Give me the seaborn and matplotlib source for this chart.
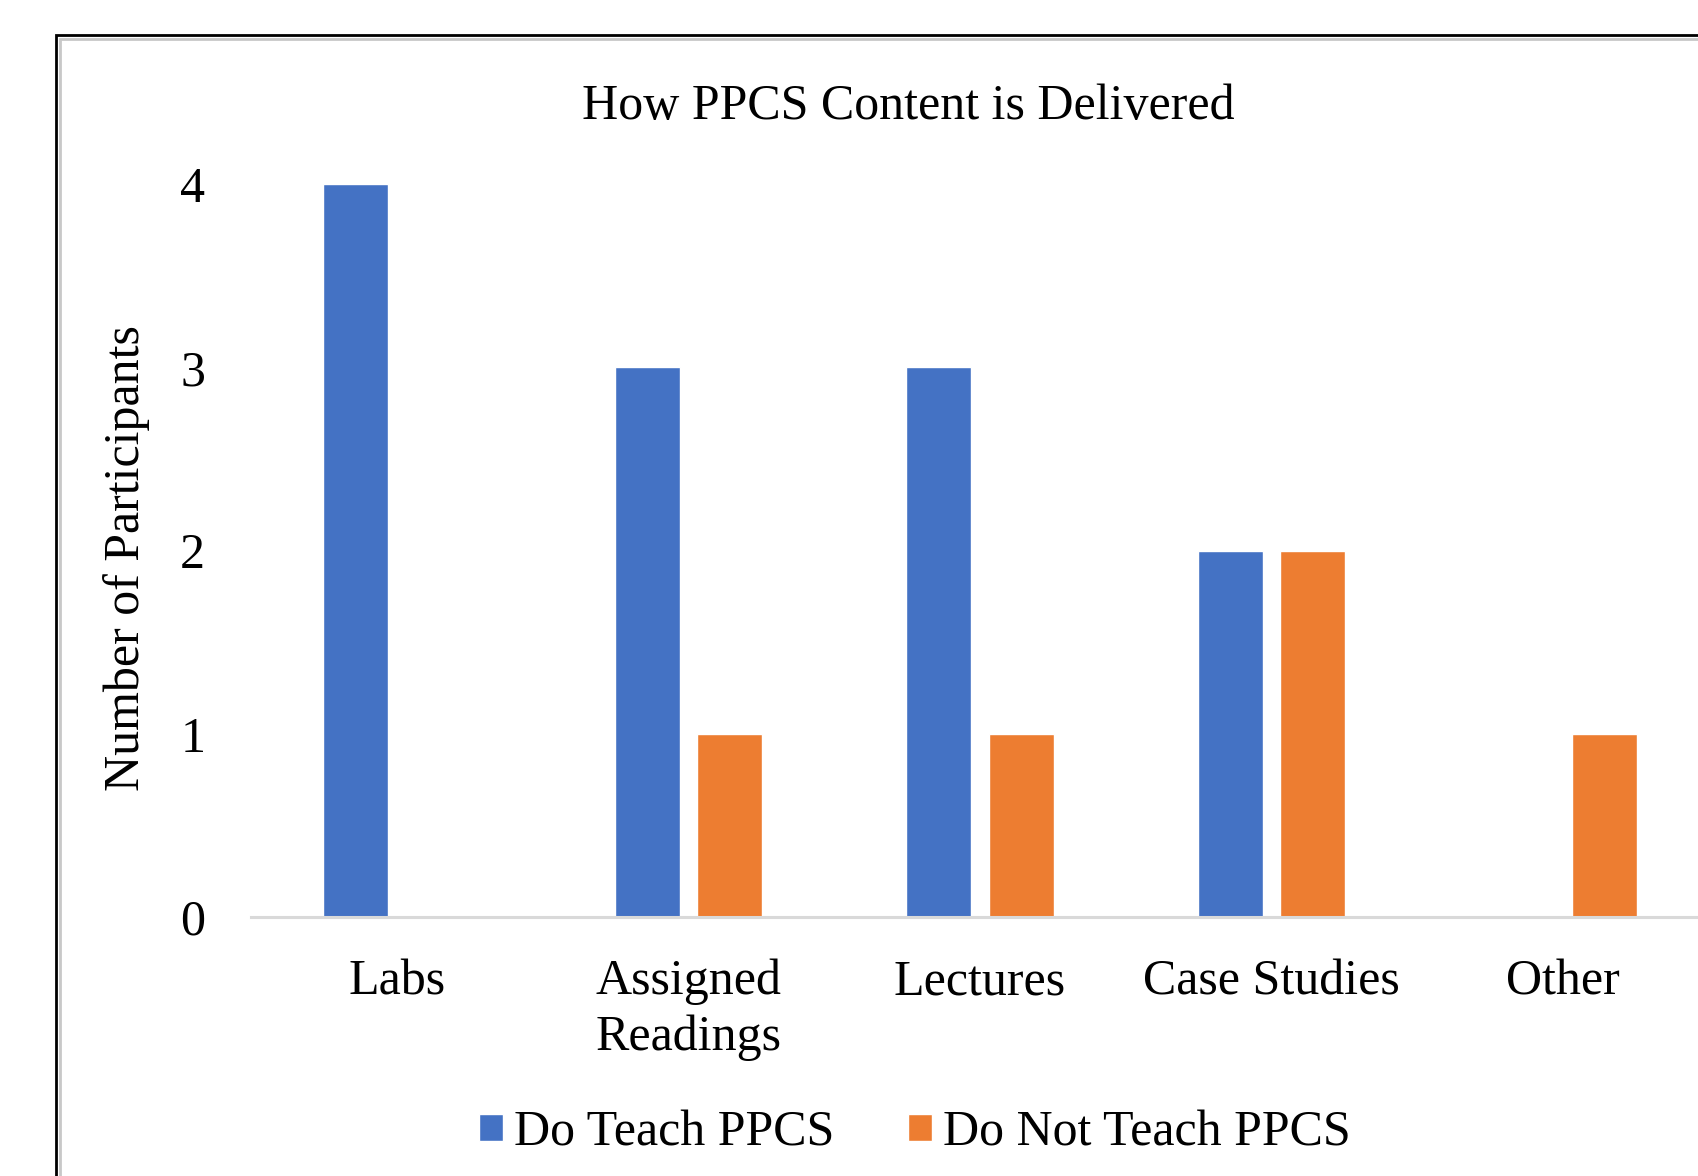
import matplotlib
matplotlib.use("Agg")
import matplotlib.pyplot as plt
import seaborn as sns
import pandas as pd
from matplotlib.patches import Rectangle

categories = ["Labs", "Assigned\nReadings", "Lectures", "Case Studies", "Other"]
do_teach = [4, 3, 3, 2, 0]
do_not_teach = [0, 1, 1, 2, 1]
series_names = ["Do Teach PPCS", "Do Not Teach PPCS"]
y_ticks = [0, 1, 2, 3, 4]
title = "How PPCS Content is Delivered"
y_label = "Number of Participants"

sns.set_theme(style="white")
plt.rcParams['font.family'] = ['Liberation Serif', 'DejaVu Serif']
plt.rcParams['text.color'] = 'black'

df = pd.DataFrame({
    "Method": categories * 2,
    "Count": do_teach + do_not_teach,
    "Group": [series_names[0]] * len(categories) + [series_names[1]] * len(categories),
})

W, H = 1699, 1176
fig = plt.figure(figsize=(W / 100, H / 100), dpi=100)
fig.patch.set_facecolor("white")

ax = fig.add_axes([251 / W, (H - 917) / H, (1709 - 251) / W, (917 - 184) / H])
sns.barplot(data=df, x="Method", y="Count", hue="Group", order=categories,
            hue_order=series_names, palette=["#4472C4", "#ED7D31"],
            width=0.564, gap=0.21, saturation=1, errorbar=None, ax=ax)

ax.set_xlim(-0.5, 4.5)
ax.set_ylim(0, 4)
ax.set_yticks(y_ticks)
ax.set_xlabel("")
ax.set_ylabel("")
for s in ["left", "top", "right"]:
    ax.spines[s].set_visible(False)
ax.spines["bottom"].set_color("#D9D9D9")
ax.spines["bottom"].set_linewidth(2.2)
ax.tick_params(axis="x", length=0, pad=30, labelsize=36, colors="black")
ax.tick_params(axis="y", length=0, pad=33, labelsize=36, colors="black")
for lab in ax.get_xticklabels():
    lab.set_linespacing(1.26)
ax.grid(False)

sns.move_legend(ax, loc="center", bbox_to_anchor=(915 / W, 1 - 1133 / H),
                bbox_transform=fig.transFigure, ncol=2, frameon=False, title=None,
                fontsize=36, handlelength=0.48, handleheight=0.48,
                handletextpad=0.22, columnspacing=1.47)
for t in ax.get_legend().get_texts():
    t.set_color("black")

fig.text(908 / W, 1 - 107 / H, title, ha="center", va="center", fontsize=36, color="black")
fig.text(127 / W, 1 - 558 / H, y_label, ha="center", va="center", fontsize=36,
         rotation=90, color="black")

fig.patches.append(Rectangle((56 / W, -0.1), 1.2, (1 - 35 / H) + 0.1,
                             transform=fig.transFigure, fill=False,
                             edgecolor="black", linewidth=2))
fig.patches.append(Rectangle((60 / W, -0.1), 1.2, (1 - 39 / H) + 0.1,
                             transform=fig.transFigure, fill=False,
                             edgecolor="#C8C8C8", linewidth=2))

fig.savefig("out.png", dpi=100, facecolor="white")
